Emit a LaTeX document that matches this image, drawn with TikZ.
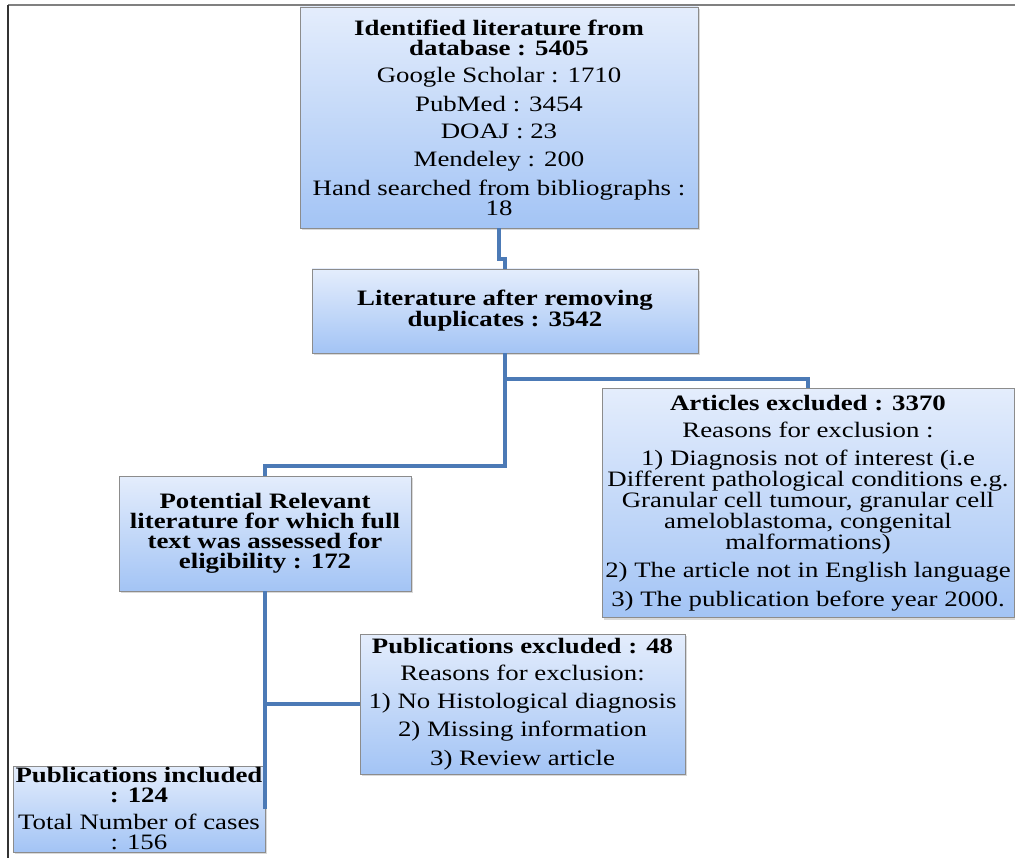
\documentclass[tikz,border=0pt]{standalone}
\usepackage{fontspec}
\setmainfont{Liberation Serif}[FakeStretch=1.22]
\usetikzlibrary{shadows}
\definecolor{linkblue}{RGB}{76,122,182}
\definecolor{boxtop}{RGB}{228,237,252}
\definecolor{boxbottom}{RGB}{163,196,245}

\begin{document}
\begin{tikzpicture}[x=1pt, y=-1pt,
    box/.style={draw=black!45, top color=boxtop, bottom color=boxbottom, align=center, inner sep=0pt,
        font=\fontsize{22}{20}\selectfont, drop shadow={shadow xshift=2pt, shadow yshift=-2pt, opacity=0.3}},
    link/.style={draw=linkblue, line width=3.5pt}]
    \useasboundingbox (0,0) rectangle (1015,858);
    \draw[black!50, line width=2pt] (8,5) -- (1015,5);
    \draw[black!80, line width=1.2pt] (8,5) -- (8,858);

    \node[box, minimum width=398pt, minimum height=221pt] (ident) at (499,117.5) {\textbf{Identified literature from}\\ \textbf{database : 5405}\\[7.5pt] Google Scholar : 1710\\[7.5pt] PubMed : 3454\\[7.5pt] DOAJ : 23\\[7.5pt] Mendeley : 200\\[7.5pt] Hand searched from bibliographs :\\ 18};
    \node[box, minimum width=386pt, minimum height=84pt] (dupl) at (505,311) {\textbf{Literature after removing}\\ \textbf{duplicates : 3542}};
    \node[box, minimum width=412pt, minimum height=229pt] (excl) at (808,503) {\textbf{Articles excluded : 3370}\\[7.5pt] Reasons for exclusion :\\[7.5pt] 1) Diagnosis not of interest (i.e\\ Different pathological conditions e.g.\\ Granular cell tumour, granular cell\\ ameloblastoma, congenital\\ malformations)\\[7.5pt] 2) The article not in English language\\[7.5pt] 3) The publication before year 2000.};
    \node[box, minimum width=292pt, minimum height=115pt] (full) at (265,533.5) {\textbf{Potential Relevant}\\ \textbf{literature for which full}\\ \textbf{text was assessed for}\\ \textbf{eligibility : 172}};
    \node[box, minimum width=325pt, minimum height=140pt] (pubex) at (522.5,704) {\textbf{Publications excluded : 48}\\[7.5pt] Reasons for exclusion:\\[7.5pt] 1) No Histological diagnosis\\[7.5pt] 2) Missing information\\[7.5pt] 3) Review article};
    \node[box, minimum width=252pt, minimum height=86pt] (incl) at (139,809) {\textbf{Publications included}\\ \textbf{: 124}\\[7pt] Total Number of cases\\ : 156};

    \draw[link] (ident.south) -- ++(0,31) -| (dupl.north);
    \draw[link] (dupl.south) -- ++(0,26) coordinate (split) -| (excl.north);
    \draw[link] (split) -- ++(0,87) -| (full.north);
    \coordinate (tail) at (full.south |- incl.east);
    \draw[link] (full.south) -- (tail);
    \draw[link] (full.south |- pubex.west) -- (pubex.west);
\end{tikzpicture}
\end{document}
